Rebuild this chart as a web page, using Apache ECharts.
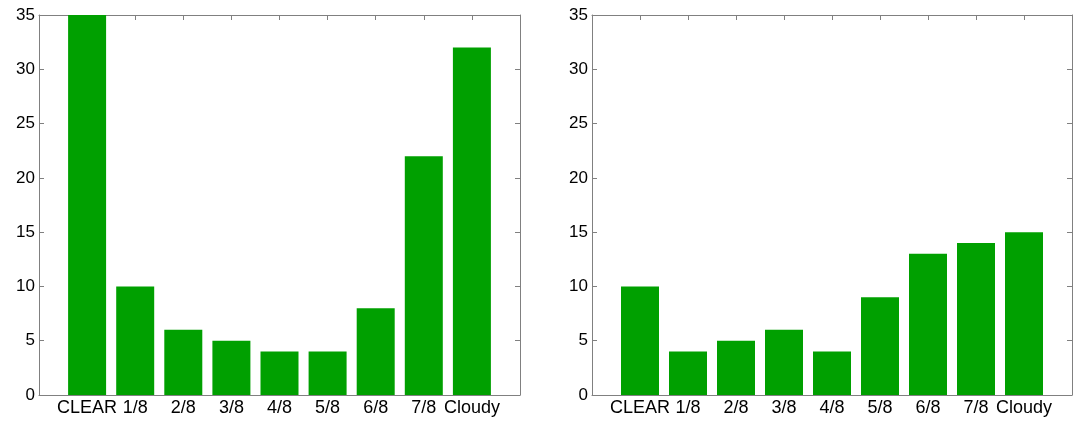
<!DOCTYPE html>
<html>
<head>
<meta charset="utf-8">
<script src="https://cdn.jsdelivr.net/npm/echarts@6/dist/echarts.min.js"></script>
<style>html,body{margin:0;padding:0;background:#fff;}#c{width:1079px;height:421px;}</style>
</head>
<body>
<div id="c"></div>
<script>
var categories = ['CLEAR', '1/8', '2/8', '3/8', '4/8', '5/8', '6/8', '7/8', 'Cloudy'];
var leftValues = [35, 10, 6, 5, 4, 4, 8, 22, 32];
var rightValues = [10, 4, 5, 6, 4, 9, 13, 14, 15];
var yTicks = [0, 5, 10, 15, 20, 25, 30, 35];

var AX = '#808080';
var FONT = '"Liberation Sans", Arial, Helvetica, sans-serif';

function xAxes(gi) {
  return [{
    type: 'value', gridIndex: gi, position: 'bottom', min: 0, max: 10, interval: 1,
    axisLine: {show: true, onZero: false, lineStyle: {color: AX, width: 1}},
    axisTick: {show: true, inside: true, length: 5, lineStyle: {color: AX}},
    axisLabel: {show: true, color: '#000', fontSize: 18, fontFamily: FONT, margin: 4,
      formatter: function (v) { return (v >= 1 && v <= categories.length) ? categories[v - 1] : ''; }},
    splitLine: {show: false}
  }, {
    type: 'value', gridIndex: gi, position: 'top', min: 0, max: 10, interval: 1,
    axisLine: {show: true, onZero: false, lineStyle: {color: AX, width: 1}},
    axisTick: {show: true, inside: true, length: 5, lineStyle: {color: AX}},
    axisLabel: {show: false},
    splitLine: {show: false}
  }];
}
function yAxes(gi) {
  return [{
    type: 'value', gridIndex: gi, position: 'left', min: yTicks[0], max: yTicks[yTicks.length - 1], interval: 5,
    axisLine: {show: true, onZero: false, lineStyle: {color: AX, width: 1}},
    axisTick: {show: true, inside: true, length: 5, lineStyle: {color: AX}},
    axisLabel: {show: true, color: '#000', fontSize: 17, fontFamily: FONT, margin: 4},
    splitLine: {show: false}
  }, {
    type: 'value', gridIndex: gi, position: 'right', min: yTicks[0], max: yTicks[yTicks.length - 1], interval: 5,
    axisLine: {show: true, onZero: false, lineStyle: {color: AX, width: 1}},
    axisTick: {show: true, inside: true, length: 5, lineStyle: {color: AX}},
    axisLabel: {show: false},
    splitLine: {show: false}
  }];
}

function pairs(vals) { return vals.map(function (v, i) { return [i + 1, v]; }); }

var chart = echarts.init(document.getElementById('c'), null, {renderer: 'canvas'});
chart.setOption({
  animation: false,
  backgroundColor: '#fff',
  grid: [
    {left: 39, top: 15, width: 481, height: 380},
    {left: 592, top: 15, width: 480, height: 380}
  ],
  xAxis: xAxes(0).concat(xAxes(1)),
  yAxis: yAxes(0).concat(yAxes(1)),
  series: [
    {type: 'bar', xAxisIndex: 0, yAxisIndex: 0, data: pairs(leftValues), barWidth: 38,
     itemStyle: {color: '#00a000'}},
    {type: 'bar', xAxisIndex: 2, yAxisIndex: 2, data: pairs(rightValues), barWidth: 38,
     itemStyle: {color: '#00a000'}}
  ]
});
</script>
</body>
</html>
